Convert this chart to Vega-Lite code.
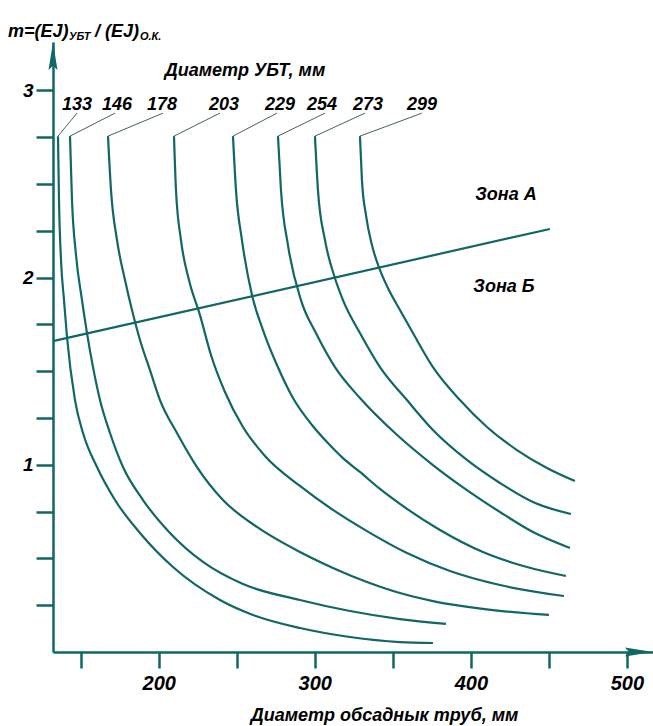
{
  "$schema": "https://vega.github.io/schema/vega-lite/v6.json",
  "width": 600,
  "height": 610,
  "autosize": {"type": "none"},
  "padding": {"left": 53, "top": 42, "right": 0, "bottom": 74},
  "background": "white",
  "config": {"view": {"stroke": null}, "font": "Liberation Sans"},
  "datasets": {
    "curves": [
      {"d": "133", "i": 0, "x": 135.45, "y": 2.756},
      {"d": "133", "i": 1, "x": 136.09, "y": 2.415},
      {"d": "133", "i": 2, "x": 137.38, "y": 2.094},
      {"d": "133", "i": 3, "x": 139.30, "y": 1.880},
      {"d": "133", "i": 4, "x": 141.22, "y": 1.683},
      {"d": "133", "i": 5, "x": 146.34, "y": 1.346},
      {"d": "133", "i": 6, "x": 151.47, "y": 1.170},
      {"d": "133", "i": 7, "x": 160.44, "y": 0.988},
      {"d": "133", "i": 8, "x": 171.97, "y": 0.812},
      {"d": "133", "i": 9, "x": 187.99, "y": 0.636},
      {"d": "133", "i": 10, "x": 209.13, "y": 0.454},
      {"d": "133", "i": 11, "x": 239.24, "y": 0.278},
      {"d": "133", "i": 12, "x": 260.38, "y": 0.198},
      {"d": "133", "i": 13, "x": 290.49, "y": 0.128},
      {"d": "133", "i": 14, "x": 322.53, "y": 0.080},
      {"d": "133", "i": 15, "x": 354.56, "y": 0.053},
      {"d": "133", "i": 16, "x": 375.70, "y": 0.048},

      {"d": "146", "i": 0, "x": 143.14, "y": 2.756},
      {"d": "146", "i": 1, "x": 144.42, "y": 2.415},
      {"d": "146", "i": 2, "x": 146.99, "y": 2.121},
      {"d": "146", "i": 3, "x": 150.83, "y": 1.880},
      {"d": "146", "i": 4, "x": 154.03, "y": 1.704},
      {"d": "146", "i": 5, "x": 157.88, "y": 1.522},
      {"d": "146", "i": 6, "x": 162.36, "y": 1.346},
      {"d": "146", "i": 7, "x": 168.77, "y": 1.170},
      {"d": "146", "i": 8, "x": 177.10, "y": 0.988},
      {"d": "146", "i": 9, "x": 189.91, "y": 0.812},
      {"d": "146", "i": 10, "x": 207.21, "y": 0.636},
      {"d": "146", "i": 11, "x": 228.35, "y": 0.481},
      {"d": "146", "i": 12, "x": 253.98, "y": 0.363},
      {"d": "146", "i": 13, "x": 290.49, "y": 0.278},
      {"d": "146", "i": 14, "x": 322.53, "y": 0.219},
      {"d": "146", "i": 15, "x": 354.56, "y": 0.176},
      {"d": "146", "i": 16, "x": 384.03, "y": 0.150},

      {"d": "178", "i": 0, "x": 167.49, "y": 2.756},
      {"d": "178", "i": 1, "x": 169.41, "y": 2.468},
      {"d": "178", "i": 2, "x": 173.25, "y": 2.201},
      {"d": "178", "i": 3, "x": 178.38, "y": 1.987},
      {"d": "178", "i": 4, "x": 182.86, "y": 1.827},
      {"d": "178", "i": 5, "x": 187.99, "y": 1.667},
      {"d": "178", "i": 6, "x": 194.39, "y": 1.506},
      {"d": "178", "i": 7, "x": 200.80, "y": 1.346},
      {"d": "178", "i": 8, "x": 211.69, "y": 1.170},
      {"d": "178", "i": 9, "x": 224.51, "y": 0.988},
      {"d": "178", "i": 10, "x": 241.16, "y": 0.812},
      {"d": "178", "i": 11, "x": 262.94, "y": 0.668},
      {"d": "178", "i": 12, "x": 290.49, "y": 0.534},
      {"d": "178", "i": 13, "x": 311.63, "y": 0.449},
      {"d": "178", "i": 14, "x": 333.42, "y": 0.374},
      {"d": "178", "i": 15, "x": 354.56, "y": 0.315},
      {"d": "178", "i": 16, "x": 375.70, "y": 0.272},
      {"d": "178", "i": 17, "x": 407.73, "y": 0.230},
      {"d": "178", "i": 18, "x": 450.02, "y": 0.198},

      {"d": "203", "i": 0, "x": 209.77, "y": 2.756},
      {"d": "203", "i": 1, "x": 211.05, "y": 2.468},
      {"d": "203", "i": 2, "x": 214.25, "y": 2.201},
      {"d": "203", "i": 3, "x": 219.38, "y": 1.987},
      {"d": "203", "i": 4, "x": 226.43, "y": 1.800},
      {"d": "203", "i": 5, "x": 233.47, "y": 1.587},
      {"d": "203", "i": 6, "x": 242.44, "y": 1.389},
      {"d": "203", "i": 7, "x": 253.98, "y": 1.202},
      {"d": "203", "i": 8, "x": 268.07, "y": 1.047},
      {"d": "203", "i": 9, "x": 290.49, "y": 0.887},
      {"d": "203", "i": 10, "x": 311.63, "y": 0.759},
      {"d": "203", "i": 11, "x": 333.42, "y": 0.646},
      {"d": "203", "i": 12, "x": 359.04, "y": 0.529},
      {"d": "203", "i": 13, "x": 386.59, "y": 0.433},
      {"d": "203", "i": 14, "x": 418.63, "y": 0.358},
      {"d": "203", "i": 15, "x": 459.63, "y": 0.299},

      {"d": "229", "i": 0, "x": 247.57, "y": 2.756},
      {"d": "229", "i": 1, "x": 249.49, "y": 2.468},
      {"d": "229", "i": 2, "x": 253.33, "y": 2.201},
      {"d": "229", "i": 3, "x": 259.74, "y": 1.907},
      {"d": "229", "i": 4, "x": 266.79, "y": 1.720},
      {"d": "229", "i": 5, "x": 275.76, "y": 1.533},
      {"d": "229", "i": 6, "x": 286.01, "y": 1.357},
      {"d": "229", "i": 7, "x": 298.18, "y": 1.213},
      {"d": "229", "i": 8, "x": 307.79, "y": 1.122},
      {"d": "229", "i": 9, "x": 318.04, "y": 1.036},
      {"d": "229", "i": 10, "x": 328.93, "y": 0.962},
      {"d": "229", "i": 11, "x": 341.75, "y": 0.871},
      {"d": "229", "i": 12, "x": 354.56, "y": 0.791},
      {"d": "229", "i": 13, "x": 380.19, "y": 0.652},
      {"d": "229", "i": 14, "x": 407.73, "y": 0.534},
      {"d": "229", "i": 15, "x": 435.92, "y": 0.454},
      {"d": "229", "i": 16, "x": 460.91, "y": 0.406},

      {"d": "254", "i": 0, "x": 276.40, "y": 2.756},
      {"d": "254", "i": 1, "x": 278.32, "y": 2.468},
      {"d": "254", "i": 2, "x": 282.81, "y": 2.174},
      {"d": "254", "i": 3, "x": 291.13, "y": 1.880},
      {"d": "254", "i": 4, "x": 300.74, "y": 1.704},
      {"d": "254", "i": 5, "x": 312.92, "y": 1.522},
      {"d": "254", "i": 6, "x": 328.93, "y": 1.357},
      {"d": "254", "i": 7, "x": 351.36, "y": 1.170},
      {"d": "254", "i": 8, "x": 375.70, "y": 0.999},
      {"d": "254", "i": 9, "x": 397.48, "y": 0.865},
      {"d": "254", "i": 10, "x": 418.63, "y": 0.748},
      {"d": "254", "i": 11, "x": 439.77, "y": 0.641},
      {"d": "254", "i": 12, "x": 463.47, "y": 0.556},

      {"d": "273", "i": 0, "x": 300.10, "y": 2.756},
      {"d": "273", "i": 1, "x": 302.02, "y": 2.468},
      {"d": "273", "i": 2, "x": 306.51, "y": 2.201},
      {"d": "273", "i": 3, "x": 312.28, "y": 2.014},
      {"d": "273", "i": 4, "x": 318.04, "y": 1.880},
      {"d": "273", "i": 5, "x": 328.93, "y": 1.704},
      {"d": "273", "i": 6, "x": 341.75, "y": 1.522},
      {"d": "273", "i": 7, "x": 359.04, "y": 1.346},
      {"d": "273", "i": 8, "x": 375.70, "y": 1.186},
      {"d": "273", "i": 9, "x": 397.48, "y": 1.026},
      {"d": "273", "i": 10, "x": 418.63, "y": 0.903},
      {"d": "273", "i": 11, "x": 439.77, "y": 0.801},
      {"d": "273", "i": 12, "x": 464.11, "y": 0.737},

      {"d": "299", "i": 0, "x": 328.93, "y": 2.756},
      {"d": "299", "i": 1, "x": 330.21, "y": 2.521},
      {"d": "299", "i": 2, "x": 332.78, "y": 2.334},
      {"d": "299", "i": 3, "x": 336.62, "y": 2.174},
      {"d": "299", "i": 4, "x": 341.75, "y": 2.041},
      {"d": "299", "i": 5, "x": 348.15, "y": 1.923},
      {"d": "299", "i": 6, "x": 354.56, "y": 1.827},
      {"d": "299", "i": 7, "x": 362.89, "y": 1.704},
      {"d": "299", "i": 8, "x": 375.70, "y": 1.522},
      {"d": "299", "i": 9, "x": 393.00, "y": 1.346},
      {"d": "299", "i": 10, "x": 410.30, "y": 1.202},
      {"d": "299", "i": 11, "x": 429.52, "y": 1.079},
      {"d": "299", "i": 12, "x": 448.74, "y": 0.983},
      {"d": "299", "i": 13, "x": 466.67, "y": 0.913}
    ],
    "zone": [
      {"x": 132.25, "y": 1.661},
      {"x": 450.66, "y": 2.260}
    ],
    "leaders": [
      {"d": "133", "x": 135.45, "y": 2.756, "x2": 147.63, "y2": 2.879},
      {"d": "146", "x": 143.14, "y": 2.756, "x2": 171.97, "y2": 2.879},
      {"d": "178", "x": 167.49, "y": 2.756, "x2": 202.72, "y2": 2.879},
      {"d": "203", "x": 209.77, "y": 2.756, "x2": 239.24, "y2": 2.879},
      {"d": "229", "x": 247.57, "y": 2.756, "x2": 275.76, "y2": 2.879},
      {"d": "254", "x": 276.40, "y": 2.756, "x2": 306.51, "y2": 2.879},
      {"d": "273", "x": 300.10, "y": 2.756, "x2": 332.14, "y2": 2.879},
      {"d": "299", "x": 328.93, "y": 2.756, "x2": 368.65, "y2": 2.879}
    ],
    "labels": [
      {"d": "133", "x": 147.63, "y": 2.895},
      {"d": "146", "x": 173.25, "y": 2.895},
      {"d": "178", "x": 202.08, "y": 2.895},
      {"d": "203", "x": 241.80, "y": 2.895},
      {"d": "229", "x": 277.68, "y": 2.895},
      {"d": "254", "x": 304.59, "y": 2.895},
      {"d": "273", "x": 334.06, "y": 2.895},
      {"d": "299", "x": 368.65, "y": 2.895}
    ],
    "notes": [
      {"t": "Диаметр УБТ, мм", "x": 255.25, "y": 3.077},
      {"t": "Зона А", "x": 422.47, "y": 2.415},
      {"t": "Зона Б", "x": 421.19, "y": 1.923}
    ],
    "titleMain": [
      {"t": "m=(EJ)", "x": 103.42, "y": 3.285},
      {"t": "/  (EJ)", "x": 159.16, "y": 3.285}
    ],
    "titleSub": [
      {"t": "УБТ", "x": 142.50, "y": 3.269},
      {"t": "О.К.", "x": 187.99, "y": 3.269}
    ],
    "arrows": [
      {"dir": "up", "x": 132.25, "y": 3.184},
      {"dir": "right", "x": 507.68, "y": 0}
    ]
  },
  "encoding": {
    "x": {
      "field": "x",
      "type": "quantitative",
      "scale": {"domain": [132.25, 516.7], "nice": false, "zero": false},
      "axis": {
        "values": [150, 200, 250, 300, 350, 400, 450, 500],
        "tickCount": 30,
        "labelExpr": "datum.value % 100 === 0 ? datum.label : ''",
        "grid": false,
        "domainColor": "#116666",
        "domainWidth": 2.5,
        "tickColor": "#116666",
        "tickWidth": 2.5,
        "tickSize": 16,
        "labelFont": "Liberation Sans",
        "labelFontSize": 20,
        "labelFontStyle": "italic",
        "labelFontWeight": "bold",
        "labelColor": "black",
        "labelPadding": 5,
        "labelFlush": false,
        "labelOverlap": false,
        "title": "Диаметр обсаднык труб, мм",
        "titleFont": "Liberation Sans",
        "titleFontSize": 18,
        "titleFontStyle": "italic",
        "titleFontWeight": "bold",
        "titleColor": "black",
        "titleX": 331,
        "titleY": 68,
        "titleAlign": "center",
        "titleBaseline": "alphabetic"
      }
    },
    "y": {
      "field": "y",
      "type": "quantitative",
      "scale": {"domain": [0, 3.259], "nice": false, "zero": false},
      "axis": {
        "values": [0.25, 0.5, 0.75, 1, 1.25, 1.5, 1.75, 2, 2.25, 2.5, 2.75, 3],
        "tickCount": 30,
        "labelExpr": "datum.value % 1 === 0 ? format(datum.value, 'd') : ''",
        "grid": false,
        "domainColor": "#116666",
        "domainWidth": 2.5,
        "tickColor": "#116666",
        "tickWidth": 2.5,
        "tickSize": 17,
        "labelFont": "Liberation Sans",
        "labelFontSize": 19,
        "labelFontStyle": "italic",
        "labelFontWeight": "bold",
        "labelColor": "black",
        "labelPadding": 3,
        "labelOverlap": false,
        "title": null
      }
    }
  },
  "layer": [
    {
      "data": {"name": "curves"},
      "mark": {"type": "line", "interpolate": "monotone", "color": "#116666", "strokeWidth": 2.2},
      "encoding": {"detail": {"field": "d"}, "order": {"field": "i", "type": "quantitative"}}
    },
    {
      "data": {"name": "zone"},
      "mark": {"type": "line", "color": "#116666", "strokeWidth": 2.2},
      "encoding": {}
    },
    {
      "data": {"name": "leaders"},
      "mark": {"type": "rule", "color": "#2d4f4f", "strokeWidth": 0.9},
      "encoding": {"x2": {"field": "x2"}, "y2": {"field": "y2"}}
    },
    {
      "data": {"name": "labels"},
      "mark": {"type": "text", "font": "Liberation Sans", "fontSize": 18, "fontStyle": "italic", "fontWeight": "bold", "color": "black", "align": "center", "baseline": "alphabetic"},
      "encoding": {"text": {"field": "d"}}
    },
    {
      "data": {"name": "notes"},
      "mark": {"type": "text", "font": "Liberation Sans", "fontSize": 18, "fontStyle": "italic", "fontWeight": "bold", "color": "black", "align": "center", "baseline": "alphabetic"},
      "encoding": {"text": {"field": "t"}}
    },
    {
      "data": {"name": "titleMain"},
      "mark": {"type": "text", "font": "Liberation Sans", "fontSize": 18, "fontStyle": "italic", "fontWeight": "bold", "color": "black", "align": "left", "baseline": "alphabetic"},
      "encoding": {"text": {"field": "t"}}
    },
    {
      "data": {"name": "titleSub"},
      "mark": {"type": "text", "font": "Liberation Sans", "fontSize": 11, "fontStyle": "italic", "fontWeight": "bold", "color": "black", "align": "left", "baseline": "alphabetic"},
      "encoding": {"text": {"field": "t"}}
    },
    {
      "data": {"name": "arrows"},
      "mark": {"type": "point", "filled": true, "color": "#116666", "opacity": 1, "size": 784},
      "encoding": {
        "shape": {
          "field": "dir",
          "type": "nominal",
          "scale": {"domain": ["up", "right"], "range": ["M0,-1L0.32,1L0,0.7L-0.32,1Z", "M1,0L-1,-0.32L-0.7,0L-1,0.32Z"]},
          "legend": null
        }
      }
    }
  ]
}
